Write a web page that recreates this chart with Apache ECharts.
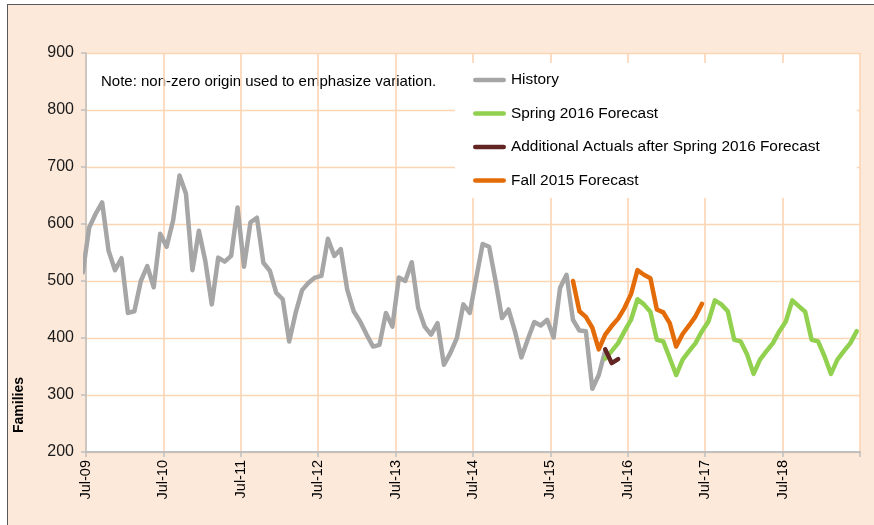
<!DOCTYPE html>
<html>
<head>
<meta charset="utf-8">
<script src="https://cdn.jsdelivr.net/npm/echarts@6/dist/echarts.min.js"></script>
<style>
  html, body { margin: 0; padding: 0; background: #ffffff; }
  #frame {
    position: absolute; left: 7px; top: 4px; right: 0; bottom: 0;
    background: #fde9d9;
    border-left: 1.5px solid #595959;
    border-top: 1.5px solid #595959;
  }
  #chart { position: absolute; left: 0; top: 0; width: 874px; height: 525px; }
</style>
</head>
<body>
<div id="frame"></div>
<div id="chart"></div>
<script>
// x axis: months counted from Jul-09, ticks every July
const tickLabels = ['Jul-09', 'Jul-10', 'Jul-11', 'Jul-12', 'Jul-13', 'Jul-14', 'Jul-15', 'Jul-16', 'Jul-17', 'Jul-18'];

// first month of each series (0 = Jul-09, -1 = Jun-09)
const historyStart = -1;
const history = [515,
  594, 618, 638, 553, 519, 540, 444, 447, 500, 526, 489, 583,
  560, 606, 685, 653, 519, 588, 535, 459, 541, 534, 544, 629,
  525, 603, 611, 532, 518, 479, 468, 394, 444, 484, 497, 506,
  509, 574, 544, 556, 485, 447, 429, 406, 385, 388, 444, 420,
  506, 500, 533, 453, 420, 406, 426, 353, 374, 400, 459, 444,
  505, 565, 560, 500, 435, 450, 412, 366, 398, 428, 422, 432,
  401, 488, 511, 432, 413, 412, 311, 335, 378];

const springStart = 80;
const spring2016 = [364, 377, 391, 412, 432, 468, 459, 446, 397, 394,
  365, 335, 362, 377, 391, 412, 429, 466, 459, 447,
  397, 394, 371, 337, 362, 377, 391, 412, 429, 466,
  456, 446, 397, 394, 368, 337, 362, 377, 391, 412];

const actualsStart = 80;
const actuals = [380, 356, 363];

const fallStart = 75;
const fall2015 = [500, 447, 437, 418, 380, 406, 421, 434, 453, 477,
  519, 511, 505, 450, 445, 426, 385, 407, 422, 438, 460];

const font = '"Liberation Sans", Arial, sans-serif';
const gridColor = '#fcd5b4';
const axisColor = '#bfbfbf';
const legendIcon = 'path://M2.5,0H32.5A2.5,2.5,0,0,1,32.5,5H2.5A2.5,2.5,0,0,1,2.5,0Z';

// points sit in the middle of their month
function toPoints(start, values) {
  return values.map((v, i) => [start + i + 0.5, v]);
}

function lineSeries(name, color, start, values) {
  return {
    name: name,
    type: 'line',
    data: toPoints(start, values),
    symbol: 'none',
    clip: true,
    color: color,
    lineStyle: { width: 4.5, color: color, cap: 'round', join: 'round' },
    emphasis: { disabled: true },
    silent: true
  };
}

let myChart = echarts.init(document.getElementById('chart'), null, { renderer: 'canvas' });

let option = {
  animation: false,
  backgroundColor: 'transparent',
  textStyle: { fontFamily: font },
  grid: {
    left: 86, right: 14, top: 53, bottom: 73,
    show: true, backgroundColor: '#ffffff', borderWidth: 0
  },
  legend: {
    orient: 'vertical',
    left: 455, top: 63,
    padding: [9.5, 37, 10, 18],
    backgroundColor: '#ffffff',
    itemWidth: 33, itemHeight: 15, itemGap: 18.5,
    icon: legendIcon,
    textStyle: { fontSize: 15.4, color: '#000000', fontFamily: font },
    selectedMode: false,
    data: ['History', 'Spring 2016 Forecast', 'Additional Actuals after Spring 2016 Forecast', 'Fall 2015 Forecast']
  },
  xAxis: {
    type: 'value',
    min: 0, max: 120, interval: 12,
    axisLine: { show: true, lineStyle: { color: axisColor, width: 2 } },
    axisTick: { show: true, length: 5, lineStyle: { color: axisColor, width: 1.5 } },
    axisLabel: {
      rotate: 90, margin: 8, fontSize: 14.5, color: '#000000', fontFamily: font,
      showMaxLabel: true,
      formatter: function (v) { return tickLabels[Math.round(v / 12)] || ''; }
    },
    splitLine: { show: true, lineStyle: { color: gridColor, width: 1.6 } }
  },
  yAxis: {
    type: 'value',
    min: 200, max: 900, interval: 100,
    axisLine: { show: true, lineStyle: { color: axisColor, width: 1.5 } },
    axisTick: { show: true, length: 5, lineStyle: { color: axisColor, width: 1.5 } },
    axisLabel: { fontSize: 16, color: '#1a1a1a', margin: 12, fontFamily: font },
    splitLine: { show: true, lineStyle: { color: gridColor, width: 1.3 } }
  },
  graphic: [
    {
      type: 'text', left: 101, top: 74,
      style: { text: 'Note: non-zero origin used to emphasize variation.', font: '15px ' + font, fill: '#000000' }
    },
    {
      type: 'text', x: 19, y: 405, rotation: Math.PI / 2,
      style: { text: 'Families', font: 'bold 14px ' + font, fill: '#000000', textAlign: 'center', textVerticalAlign: 'middle' }
    }
  ],
  series: [
    lineSeries('History', '#a6a6a6', historyStart, history),
    lineSeries('Spring 2016 Forecast', '#92d050', springStart, spring2016),
    lineSeries('Additional Actuals after Spring 2016 Forecast', '#632523', actualsStart, actuals),
    lineSeries('Fall 2015 Forecast', '#e36c09', fallStart, fall2015)
  ]
};

option && myChart.setOption(option);
</script>
</body>
</html>
